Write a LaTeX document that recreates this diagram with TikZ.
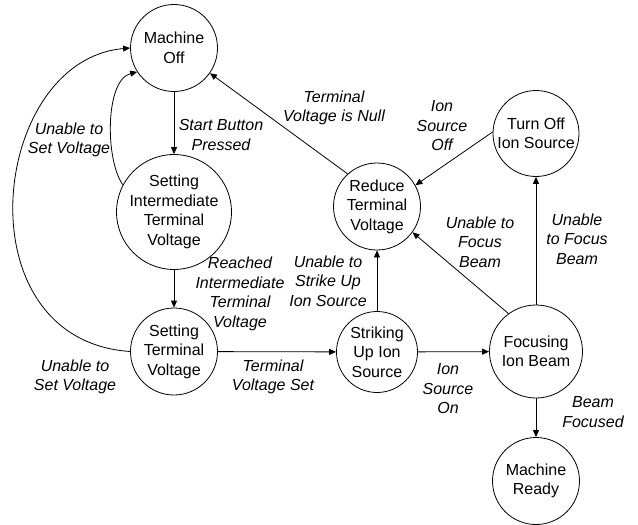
\documentclass[tikz,border=0pt]{standalone}
\usepackage{fontspec}
\setmainfont{Liberation Sans}
\usetikzlibrary{arrows.meta}
\begin{document}
\begin{tikzpicture}[x=1pt,y=-1pt,
  state/.style={draw,circle,line width=0.8pt,inner sep=0pt,align=center,
    font=\fontsize{16}{19.5}\selectfont},
  lbl/.style={align=center,inner sep=0pt,font=\fontsize{16}{19.5}\selectfont\itshape},
  conn/.style={line width=0.8pt,-{Triangle[length=7pt,width=6pt]}}]
\useasboundingbox (0,0) rectangle (638,525);
\node[state,minimum size=87pt] (mo) at (174,48) {Machine\\Off};
\node[state,minimum size=111pt] (sitv) at (174,212) {Setting\\Intermediate\\Terminal\\Voltage};
\node[state,minimum size=87pt] (stv) at (174,351.5) {Setting\\Terminal\\Voltage};
\node[state,minimum size=81pt] (sis) at (377,352) {Striking\\Up Ion\\Source};
\node[state,minimum size=93pt] (fib) at (536,351.5) {Focusing\\Ion Beam};
\node[state,minimum size=87pt] (mr) at (536,481) {Machine\\Ready};
\node[state,minimum size=87pt] (rtv) at (377,206.5) {Reduce\\Terminal\\Voltage};
\node[state,minimum size=86pt] (tois) at (536,133.5) {Turn Off\\Ion Source};

\draw[conn] (mo) -- (sitv);
\draw[conn] (sitv.152) .. controls (105,160) and (105,80) .. (mo.213);
\draw[conn] (sitv) -- (stv);
\draw[conn] (stv.west) .. controls (-40,340) and (-10,60) .. (mo.west);
\draw[conn] (stv) -- (sis);
\draw[conn] (sis) -- (rtv);
\draw[conn] (sis) -- (fib);
\draw[conn] (fib.126) -- (rtv.-36);
\draw[conn] (fib) -- (tois);
\draw[conn] (tois.178) -- (rtv.29);
\draw[conn] (rtv.132) -- (mo.-35);
\draw[conn] (fib) -- (mr);

\node[lbl] (l1) at (221,135) {Start Button\\Pressed};
\node[lbl] (l2) at (69,140) {Unable to\\Set Voltage};
\node[lbl] (l3) at (240,294) {Reached\\Intermediate\\Terminal\\Voltage};
\node[lbl] (l4) at (75,377) {Unable to\\Set Voltage};
\node[lbl] (l5) at (273,377) {Terminal\\Voltage Set};
\node[lbl] (l6) at (328,281) {Unable to\\Strike Up\\Ion Source};
\node[lbl] (l7) at (448,389) {Ion\\Source\\On};
\node[lbl] (l8) at (480,242) {Unable to\\Focus\\Beam};
\node[lbl] (l9) at (577,239) {Unable\\to Focus\\Beam};
\node[lbl] (l10) at (442,126) {Ion\\Source\\Off};
\node[lbl] (l11) at (334,108) {Terminal\\Voltage is Null};
\node[lbl] (l12) at (593,412) {Beam\\Focused};
\end{tikzpicture}
\end{document}
